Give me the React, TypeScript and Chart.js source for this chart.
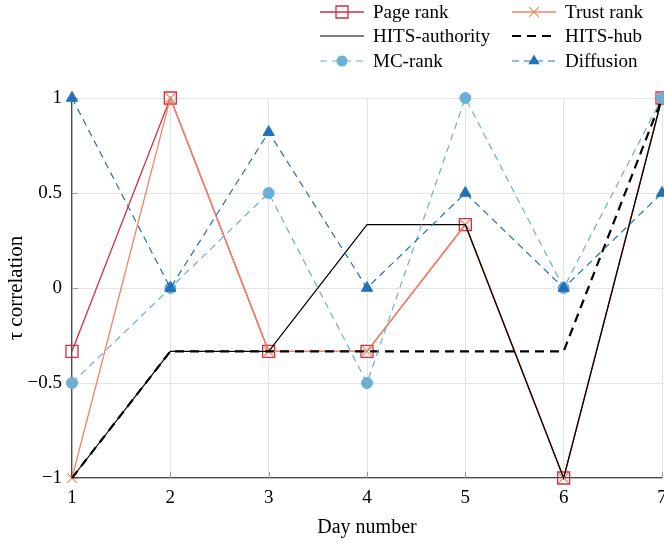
import React, { useEffect, useRef } from "react";
import { Chart, registerables } from "chart.js";

Chart.register(...registerables);

// ---- data ----
const days = [1, 2, 3, 4, 5, 6, 7];
const pageRank = [-1 / 3, 1, -1 / 3, -1 / 3, 1 / 3, -1, 1];
const trustRank = [-1, 1, -1 / 3, -1 / 3, 1 / 3, -1, 1];
const hitsAuthority = [-1, -1 / 3, -1 / 3, 1 / 3, 1 / 3, -1, 1];
const hitsHub = [-1, -1 / 3, -1 / 3, -1 / 3, -1 / 3, -1 / 3, 1];
const mcRank = [-0.5, 0, 0.5, -0.5, 1, 0, 1];
const diffusion = [1, 0, 0.82, 0, 0.5, 0, 0.5];
const yTickValues = [-1, -0.5, 0, 0.5, 1];
const yTickLabels = ["\u22121", "\u22120.5", "0", "0.5", "1"];
const xTickLabels = ["1", "2", "3", "4", "5", "6", "7"];

const SERIF = "'Liberation Serif', 'DejaVu Serif', 'Times New Roman', serif";

const RED = "#d0303f";
const ORANGE = "#f4845f";
const BLACK = "#000000";
const LIGHTBLUE = "#6baed6";
const BLUE = "#2171b5";

const toPts = (ys: number[]) => days.map((d, i) => ({ x: d, y: ys[i] }));

function drawMarker(ctx: CanvasRenderingContext2D, style: string, x: number, y: number, r: number, stroke: string, fill: string, lw: number) {
  ctx.save();
  ctx.lineWidth = lw;
  ctx.strokeStyle = stroke;
  ctx.fillStyle = fill;
  ctx.setLineDash([]);
  ctx.beginPath();
  if (style === "rect") {
    const s = Math.SQRT1_2 * r;
    ctx.rect(x - s, y - s, 2 * s, 2 * s);
    ctx.stroke();
  } else if (style === "crossRot") {
    const s = Math.SQRT1_2 * r;
    ctx.moveTo(x - s, y - s);
    ctx.lineTo(x + s, y + s);
    ctx.moveTo(x - s, y + s);
    ctx.lineTo(x + s, y - s);
    ctx.stroke();
  } else if (style === "circle") {
    ctx.arc(x, y, r, 0, Math.PI * 2);
    ctx.fill();
  } else if (style === "triangle") {
    ctx.moveTo(x, y - r);
    ctx.lineTo(x + r * Math.sin(Math.PI / 3), y + r * 0.5);
    ctx.lineTo(x - r * Math.sin(Math.PI / 3), y + r * 0.5);
    ctx.closePath();
    ctx.fill();
  }
  ctx.restore();
}

const legendPlugin = {
  id: "texLegend",
  afterDraw(chart: any) {
    const ctx: CanvasRenderingContext2D = chart.ctx;
    const colLineX = [320, 512];
    const colTextX = [373, 565];
    const rowY = [12, 36, 61];
    const lineLen = 44;
    chart.data.datasets.forEach((ds: any, i: number) => {
      const col = i % 2;
      const row = Math.floor(i / 2);
      const x0 = colLineX[col];
      const y = rowY[row];
      ctx.save();
      ctx.strokeStyle = ds.borderColor;
      ctx.lineWidth = ds.borderWidth;
      ctx.setLineDash(ds.borderDash || []);
      ctx.beginPath();
      ctx.moveTo(x0, y);
      ctx.lineTo(x0 + lineLen, y);
      ctx.stroke();
      ctx.restore();
      if (ds.pointRadius > 0) {
        drawMarker(ctx, ds.pointStyle, x0 + lineLen / 2, y, ds.pointRadius, ds.pointBorderColor || ds.borderColor, ds.pointBackgroundColor || ds.borderColor, ds.pointBorderWidth || 1);
      }
      ctx.save();
      ctx.fillStyle = "#000";
      ctx.font = `19px ${SERIF}`;
      ctx.textBaseline = "middle";
      ctx.textAlign = "left";
      ctx.fillText(ds.label, colTextX[col], y + 1);
      ctx.restore();
    });
  },
};

const tickMarkPlugin = {
  id: "innerTicks",
  beforeDatasetsDraw(chart: any) {
    const ctx: CanvasRenderingContext2D = chart.ctx;
    const { left, bottom } = chart.chartArea;
    const xs = chart.scales.x;
    const ys = chart.scales.y;
    ctx.save();
    ctx.strokeStyle = "#9a9a9a";
    ctx.lineWidth = 1;
    ctx.beginPath();
    days.forEach((d) => {
      const px = Math.round(xs.getPixelForValue(d)) + 0.5;
      ctx.moveTo(px, bottom);
      ctx.lineTo(px, bottom - 6);
    });
    yTickValues.forEach((v) => {
      const py = Math.round(ys.getPixelForValue(v)) + 0.5;
      ctx.moveTo(left, py);
      ctx.lineTo(left + 6, py);
    });
    ctx.stroke();
    ctx.restore();
  },
};

export default function App() {
  const ref = useRef<HTMLCanvasElement | null>(null);

  useEffect(() => {
    if (!ref.current) return;
    const chart = new Chart(ref.current, {
      type: "line",
      data: {
        datasets: [
          {
            label: "Page rank",
            data: toPts(pageRank),
            borderColor: RED,
            borderWidth: 1.3,
            pointStyle: "rect",
            pointRadius: 8.5,
            pointBorderColor: RED,
            pointBackgroundColor: "rgba(0,0,0,0)",
            pointBorderWidth: 1.3,
            order: 6,
            clip: false,
          },
          {
            label: "Trust rank",
            data: toPts(trustRank),
            borderColor: ORANGE,
            borderWidth: 1.3,
            pointStyle: "crossRot",
            pointRadius: 7,
            pointBorderColor: ORANGE,
            pointBackgroundColor: ORANGE,
            pointBorderWidth: 1.2,
            order: 5,
            clip: false,
          },
          {
            label: "HITS-authority",
            data: toPts(hitsAuthority),
            borderColor: BLACK,
            borderWidth: 1.2,
            pointRadius: 0,
            order: 4,
            clip: false,
          },
          {
            label: "HITS-hub",
            data: toPts(hitsHub),
            borderColor: BLACK,
            borderWidth: 2.2,
            borderDash: [9, 6],
            pointRadius: 0,
            order: 3,
            clip: false,
          },
          {
            label: "MC-rank",
            data: toPts(mcRank),
            borderColor: LIGHTBLUE,
            borderWidth: 1.2,
            borderDash: [7, 5],
            pointStyle: "circle",
            pointRadius: 5.5,
            pointBorderColor: LIGHTBLUE,
            pointBackgroundColor: LIGHTBLUE,
            pointBorderWidth: 1,
            order: 2,
            clip: false,
          },
          {
            label: "Diffusion",
            data: toPts(diffusion),
            borderColor: BLUE,
            borderWidth: 1.2,
            borderDash: [7, 5],
            pointStyle: "triangle",
            pointRadius: 6.5,
            pointBorderColor: BLUE,
            pointBackgroundColor: BLUE,
            pointBorderWidth: 1,
            order: 1,
            clip: false,
          },
        ] as any,
      },
      options: {
        animation: false,
        responsive: false,
        devicePixelRatio: 1,
        layout: { padding: { top: 98, right: 2, left: 0, bottom: 0 }, autoPadding: false } as any,
        plugins: {
          legend: { display: false },
          tooltip: { enabled: false },
        },
        elements: { line: { tension: 0 } },
        scales: {
          x: {
            type: "linear",
            min: 1,
            max: 7,
            afterFit: (s: any) => {
              s.height = 65;
              s.paddingLeft = 0;
              s.paddingRight = 0;
            },
            afterBuildTicks: (s: any) => {
              s.ticks = days.map((d) => ({ value: d }));
            },
            ticks: {
              color: "#000",
              font: { family: SERIF, size: 19 },
              padding: 9,
              maxRotation: 0,
              autoSkip: false,
              callback: (v: any) => xTickLabels[days.indexOf(Number(v))] ?? "",
            },
            grid: { color: "#e4e4e4", lineWidth: 1, drawTicks: false },
            border: { color: "#4a4a4a", width: 1.3 },
            title: {
              display: true,
              text: "Day number",
              color: "#000",
              font: { family: SERIF, size: 20 },
              padding: { top: 0, bottom: 3 },
            },
          },
          y: {
            type: "linear",
            min: -1,
            max: 1,
            afterFit: (s: any) => {
              s.width = 72;
              s.paddingTop = 0;
              s.paddingBottom = 0;
            },
            afterBuildTicks: (s: any) => {
              s.ticks = yTickValues.map((v) => ({ value: v }));
            },
            ticks: {
              color: "#000",
              font: { family: SERIF, size: 19 },
              padding: 10,
              callback: (v: any) => yTickLabels[yTickValues.indexOf(Number(v))] ?? "",
            },
            grid: { color: "#e4e4e4", lineWidth: 1, drawTicks: false },
            border: { color: "#4a4a4a", width: 1.3 },
            title: {
              display: true,
              text: "\u03c4 correlation",
              color: "#000",
              font: { family: SERIF, size: 21 },
              padding: { top: 4, bottom: 0 },
            },
          },
        },
      } as any,
      plugins: [tickMarkPlugin, legendPlugin],
    });
    return () => chart.destroy();
  }, []);

  return (
    <div style={{ position: "fixed", left: 0, top: 0, width: 664, height: 543, background: "#fff" }}>
      <canvas ref={ref} width={664} height={543} style={{ display: "block" }} />
    </div>
  );
}
